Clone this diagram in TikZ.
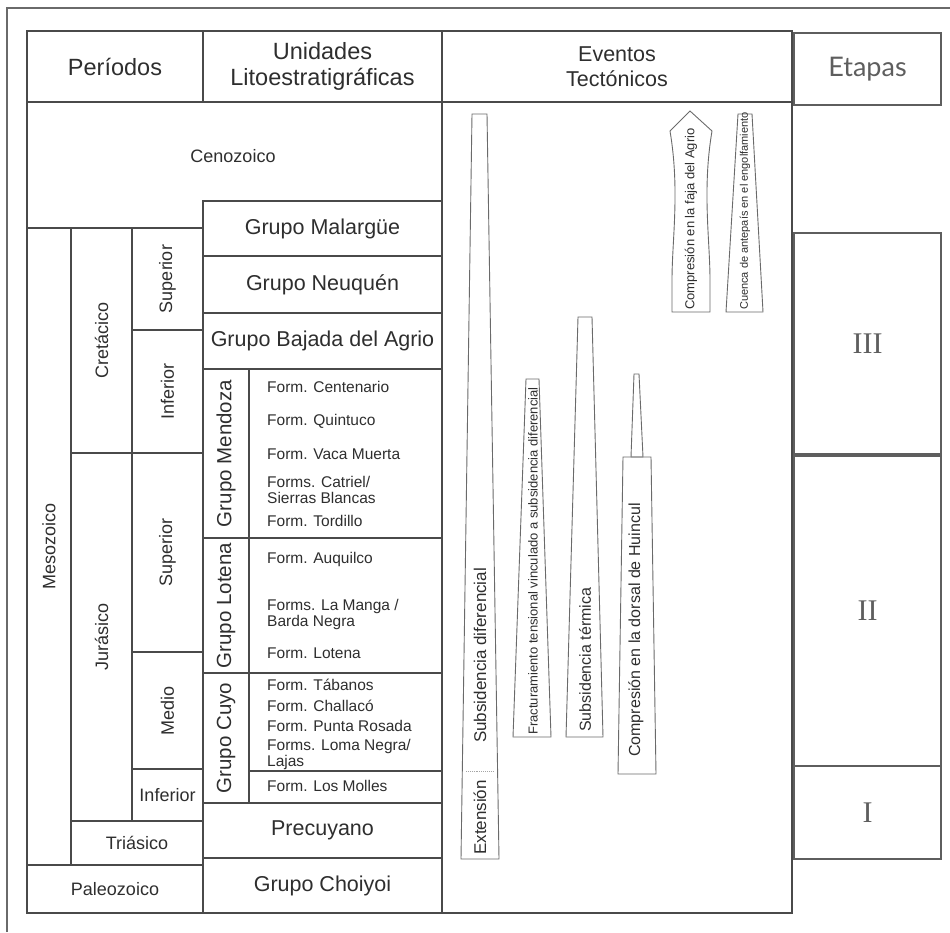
\documentclass[tikz,border=0pt]{standalone}
\usepackage{fontspec}
\setmainfont{Liberation Sans}
\newfontfamily\numfont{Liberation Serif}
\newfontfamily\stagefont{Lato}
\definecolor{rulec}{HTML}{4A4A4A}
\definecolor{inkc}{HTML}{2E2E2E}
\definecolor{barc}{HTML}{6A6A6A}
\definecolor{stagec}{HTML}{5E5E5E}
\tikzset{
  cell/.style={draw=rulec, line width=1.4pt, inner sep=0pt, text=inkc, align=center},
  head/.style={cell, font=\fontsize{23.5}{26}\selectfont},
  unit/.style={cell, font=\fontsize{21.5}{24}\selectfont},
  age/.style={cell, font=\fontsize{18}{20}\selectfont},
  grp/.style={cell, rotate=90, font=\fontsize{20.5}{23}\selectfont},
  form/.style={anchor=west, inner sep=0pt, text=inkc, align=left, font=\fontsize{15.5}{16.5}\selectfont},
  stage/.style={draw=stagec, line width=1.2pt, inner sep=0pt, text=stagec, minimum width=147pt},
  bar/.style={draw=barc, line width=0.9pt},
  evt/.style={rotate=90, anchor=west, inner sep=0pt, text=inkc}
}

\begin{document}
\begin{tikzpicture}[x=1pt, y=-1pt]
  \useasboundingbox (0,0) rectangle (950,932);
  \draw[draw=barc, line width=1.3pt] (7,932) -- (7,8) -- (950,8);

  \node[head, minimum width=176pt, minimum height=71pt] (per) at (115,66.5) {Períodos};
  \node[head, minimum width=239pt, minimum height=71pt] (uni) at (322.5,66.5) {Unidades\\Litoestratigráficas};
  \node[head, minimum width=350pt, minimum height=71pt, font=\fontsize{21.5}{25}\selectfont] (evh) at (617,66.5) {Eventos\\Tectónicos};
  \node[cell, minimum width=350pt, minimum height=811pt] (evb) at (617,507.5) {};

  \draw[rulec, line width=1.4pt] (27,102) -- (442,102) -- (442,201) -- (203,201) -- (203,228) -- (27,228) -- cycle;
  \node[text=inkc, font=\fontsize{18}{20}\selectfont] (ceno) at (233,156) {Cenozoico};

  \node[age, rotate=90, minimum width=637pt, minimum height=44pt] (meso) at (49,546.5) {Mesozoico};
  \node[age, rotate=90, minimum width=225pt, minimum height=61pt] (cret) at (101.5,340.5) {Cretácico};
  \node[age, rotate=90, minimum width=368pt, minimum height=61pt] (jura) at (101.5,637) {Jurásico};
  \node[age, minimum width=132pt, minimum height=44pt] (tria) at (137,843) {Triásico};
  \node[age, minimum width=176pt, minimum height=48pt] (paleo) at (115,889) {Paleozoico};
  \node[age, rotate=90, minimum width=102pt, minimum height=71pt] (csup) at (167.5,279) {Superior};
  \node[age, rotate=90, minimum width=123pt, minimum height=71pt] (cinf) at (167.5,391.5) {Inferior};
  \node[age, rotate=90, minimum width=199pt, minimum height=71pt] (jsup) at (167.5,552.5) {Superior};
  \node[age, rotate=90, minimum width=117pt, minimum height=71pt] (jmed) at (167.5,710.5) {Medio};
  \node[age, minimum width=71pt, minimum height=52pt] (jinf) at (167.5,795) {Inferior};

  \node[unit, minimum width=239pt, minimum height=55pt] (mal) at (322.5,228.5) {Grupo Malargüe};
  \node[unit, minimum width=239pt, minimum height=57pt] (neu) at (322.5,284.5) {Grupo Neuquén};
  \node[unit, minimum width=239pt, minimum height=56pt] (baj) at (322.5,341) {Grupo Bajada del Agrio};
  \node[grp, minimum width=169pt, minimum height=46pt] (men) at (226,453.5) {Grupo Mendoza};
  \node[cell, minimum width=193pt, minimum height=169pt] (menf) at (345.5,453.5) {};
  \node[grp, minimum width=135pt, minimum height=46pt] (lot) at (226,605.5) {Grupo Lotena};
  \node[cell, minimum width=193pt, minimum height=135pt] (lotf) at (345.5,605.5) {};
  \node[grp, minimum width=130pt, minimum height=46pt] (cuy) at (226,738) {Grupo Cuyo};
  \node[cell, minimum width=193pt, minimum height=98pt] (cuyf) at (345.5,722) {};
  \node[cell, minimum width=193pt, minimum height=32pt] (molf) at (345.5,787) {};
  \node[unit, minimum width=239pt, minimum height=55pt] (pre) at (322.5,830.5) {Precuyano};
  \node[unit, minimum width=239pt, minimum height=55pt] (cho) at (322.5,885.5) {Grupo Choiyoi};

  \node[form] (cen) at (267,387) {Form. Centenario};
  \node[form] (qui) at (267,421) {Form. Quintuco};
  \node[form] (vac) at (267,454) {Form. Vaca Muerta};
  \node[form] (cat) at (267,490) {Forms. Catriel/\\Sierras Blancas};
  \node[form] (tor) at (267,521) {Form. Tordillo};
  \node[form] (auq) at (267,559) {Form. Auquilco};
  \node[form] (lam) at (267,614.5) {Forms. La Manga /\\Barda Negra};
  \node[form] (lotn) at (267,653) {Form. Lotena};
  \node[form] (tab) at (267,685) {Form. Tábanos};
  \node[form] (cha) at (267,706) {Form. Challacó};
  \node[form] (pun) at (267,726) {Form. Punta Rosada};
  \node[form] (lom) at (267,754.5) {Forms. Loma Negra/\\Lajas};
  \node[form] (mol) at (267,786) {Form. Los Molles};

  \draw[bar] (472,114) -- (487,114) -- (499,859) -- (461,859) -- cycle;
  \draw[barc!60, line width=0.9pt, densely dotted] (466,771) -- (494,771);
  \draw[bar] (526,379) -- (539,379) -- (551,737) -- (513,737) -- cycle;
  \draw[bar] (578,317) -- (592,317) -- (603,737) -- (566,737) -- cycle;
  \draw[bar] (634,374) -- (639,374) -- (643,457) -- (631,457) -- cycle;
  \draw[bar] (623,457) -- (651,457) -- (656,774) -- (618,774) -- cycle;
  \draw[bar] (690,111) -- (712,131) .. controls (702,190) and (710,240) .. (710,280) -- (710,312)
    -- (672,312) -- (672,280) .. controls (672,240) and (680,190) .. (670,131) -- cycle;
  \draw[bar] (738,114) -- (752,114) -- (763,312) -- (726,312) -- cycle;

  \node[evt, font=\fontsize{17}{19}\selectfont] (subd) at (480,743) {Subsidencia diferencial};
  \node[evt, font=\fontsize{17}{19}\selectfont] (ext) at (480,855) {Extensión};
  \node[evt, font=\fontsize{13}{15}\selectfont] (frac) at (533,735) {Fracturamiento tensional vinculado a subsidencia diferencial};
  \node[evt, font=\fontsize{16}{18}\selectfont] (subt) at (585,732) {Subsidencia térmica};
  \node[evt, font=\fontsize{16}{18}\selectfont] (hui) at (636,757) {Compresión en la dorsal de Huincul};
  \node[evt, font=\fontsize{13}{15}\selectfont] (agr) at (691,310) {Compresión en la faja del Agrio};
  \node[evt, font=\fontsize{11}{13}\selectfont] (cue) at (745,310) {Cuenca de antepaís en el engolfamiento};

  \node[stage, minimum height=72pt, font=\stagefont\fontsize{27}{30}\selectfont] (eta) at (867.5,69) {Etapas};
  \node[stage, minimum height=221pt, font=\numfont\fontsize{30}{32}\selectfont] (s3) at (867.5,343.5) {III};
  \node[stage, minimum height=310pt, font=\numfont\fontsize{30}{32}\selectfont] (s2) at (867.5,611) {II};
  \node[stage, minimum height=93pt, font=\numfont\fontsize{30}{32}\selectfont] (s1) at (867.5,812.5) {I};
\end{tikzpicture}
\end{document}
